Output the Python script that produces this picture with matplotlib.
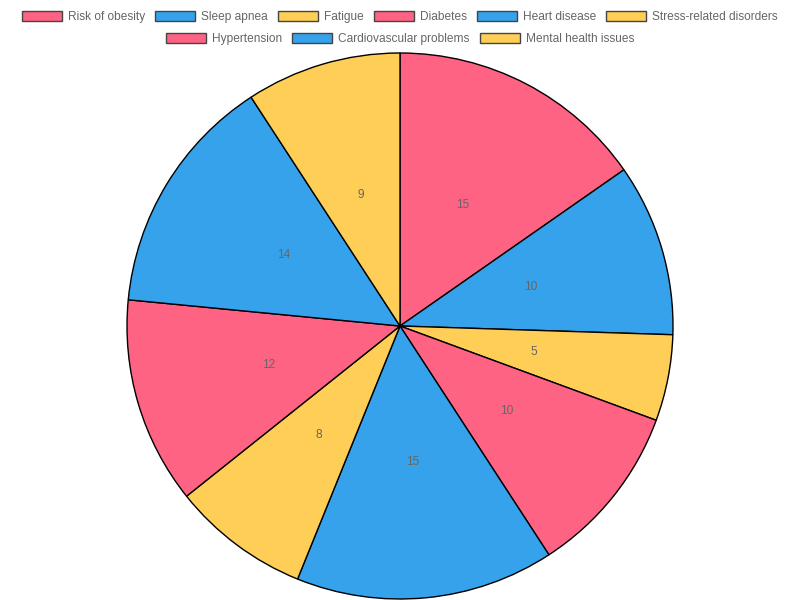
import matplotlib.pyplot as plt
from matplotlib.patches import Patch

plt.rcParams['font.family'] = ['Liberation Sans', 'DejaVu Sans']

labels = ['Risk of obesity', 'Sleep apnea', 'Fatigue', 'Diabetes', 'Heart disease',
          'Stress-related disorders', 'Hypertension', 'Cardiovascular problems',
          'Mental health issues']
values = [15, 10, 5, 10, 15, 8, 12, 14, 9]
palette = ['#FF6384', '#36A2EB', '#FFCE56']
colors = [palette[i % 3] for i in range(len(values))]

total = sum(values)

fig = plt.figure(figsize=(8, 6), dpi=100)

# pie centred at (400, 326) px with radius ~273 px
R = 273
ax = fig.add_axes([(400 - R) / 800, (274 - R) / 600, 2 * R / 800, 2 * R / 600])
wedges, texts, autotexts = ax.pie(
    values, colors=colors, startangle=90, counterclock=False,
    wedgeprops=dict(edgecolor='black', linewidth=1),
    autopct=lambda p: '%d' % round(p * total / 100), pctdistance=0.5,
    textprops=dict(color='#666666', fontsize=8.6))
ax.set_xlim(-1, 1)
ax.set_ylim(-1, 1)
ax.set_aspect('equal')
ax.axis('off')

# legend in two centred rows like the original
handles = [Patch(facecolor=c, edgecolor='#444444', linewidth=1) for c in colors]
common = dict(frameon=False, fontsize=8.6, labelcolor='#666666', handlelength=3.35,
              handleheight=0.85, handletextpad=0.5, columnspacing=0.84,
              borderpad=0, borderaxespad=0)
leg1 = fig.legend(handles[:6], labels[:6], ncol=6, loc='center',
                  bbox_to_anchor=(0.5, 1 - 17 / 600), **common)
leg2 = fig.legend(handles[6:], labels[6:], ncol=3, loc='center',
                  bbox_to_anchor=(0.5, 1 - 39 / 600), **common)

fig.savefig('out.png', dpi=100)
